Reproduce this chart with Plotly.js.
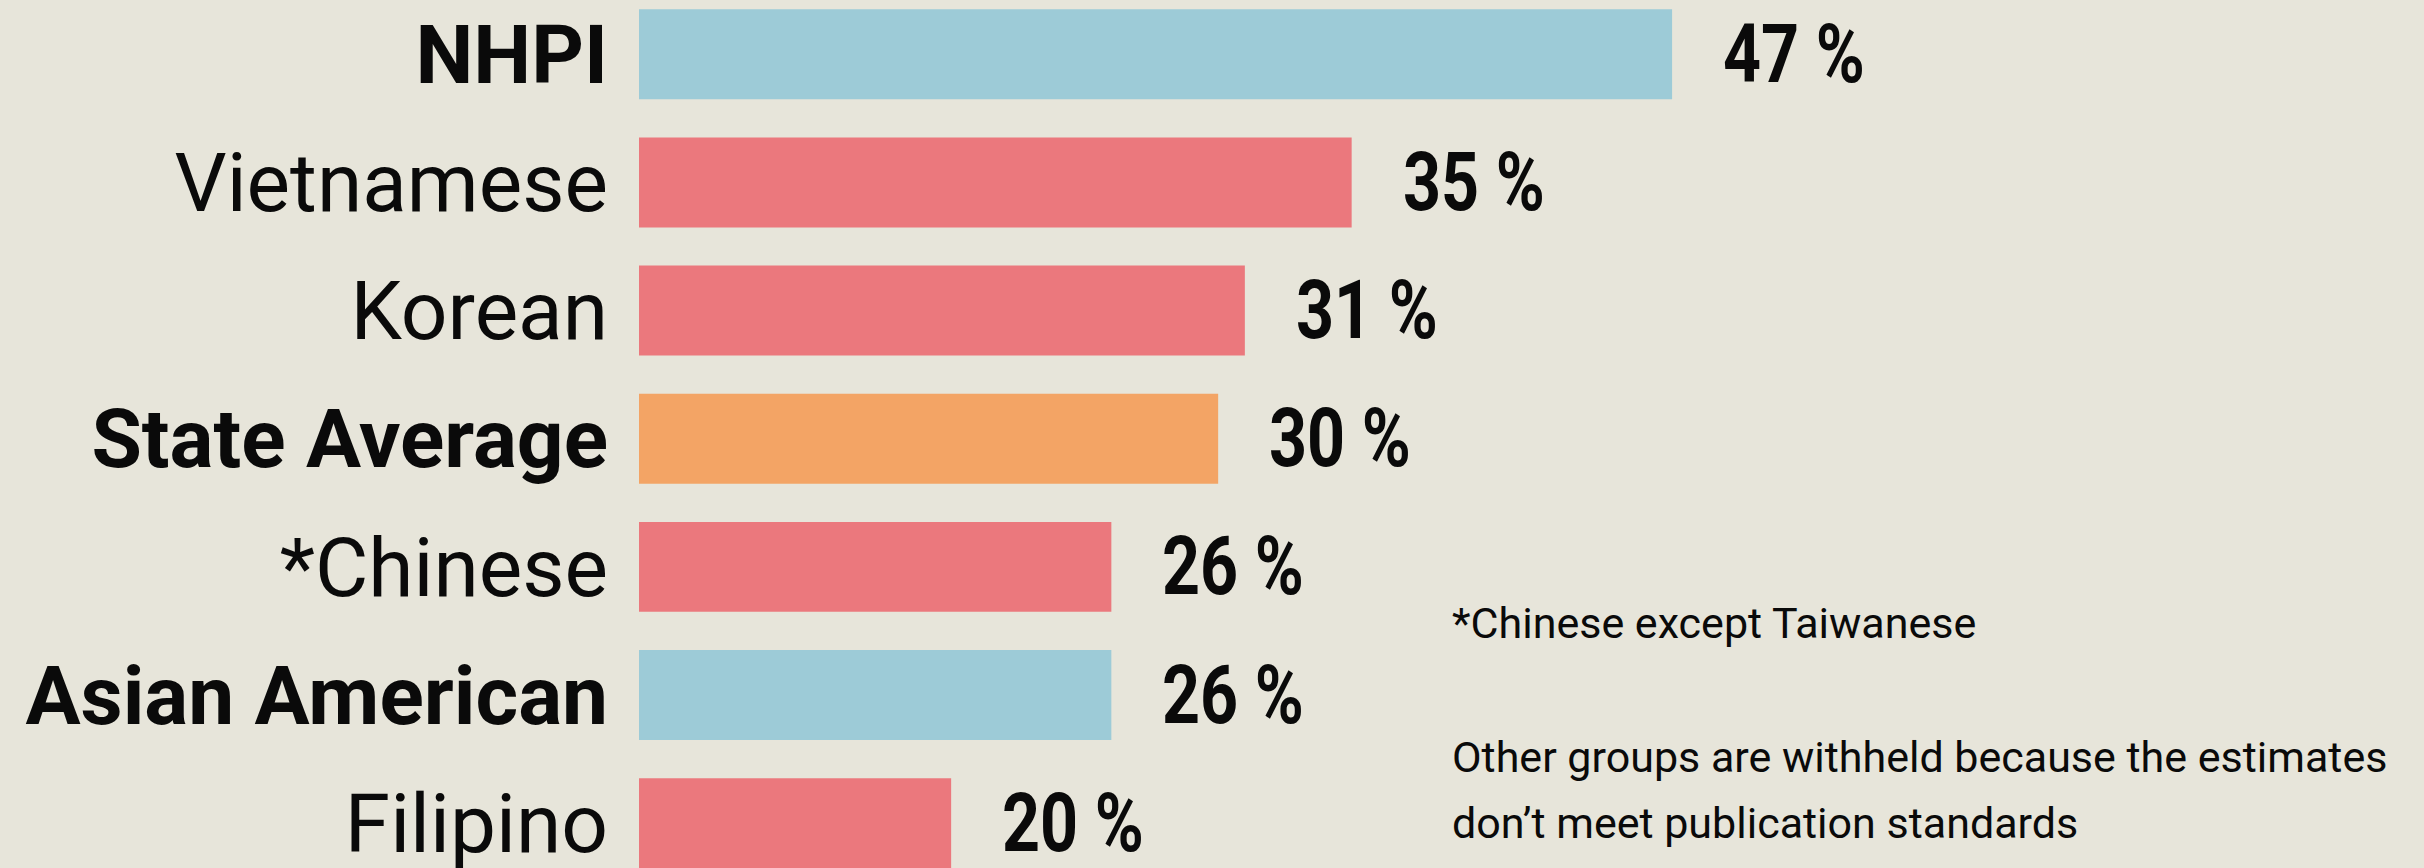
<!DOCTYPE html>
<html>
<head>
<meta charset="utf-8">
<script src="https://cdn.plot.ly/plotly-3.0.1.min.js"></script>
<style>
  html, body { margin: 0; padding: 0; background: #e7e5da; }
  #chart { width: 2424px; height: 868px; }
</style>
</head>
<body>
<div id="chart"></div>
<script>
// ---- data ----
const categories = ["NHPI", "Vietnamese", "Korean", "State Average", "*Chinese", "Asian American", "Filipino"];
const values = [47, 35, 31, 30, 26, 26, 20];
const groupTypes = ["aggregate", "subgroup", "subgroup", "average", "subgroup", "aggregate", "subgroup"];
const valueLabels = ["47 %", "35 %", "31 %", "30 %", "26 %", "26 %", "20 %"];
const footnotes = [
  "*Chinese except Taiwanese",
  "Other groups are withheld because the estimates",
  "don\u2019t meet publication standards"
];

// ---- styles ----
const colorMap = { aggregate: "#9dcbd7", subgroup: "#eb787d", average: "#f3a465" };
const boldTypes = { aggregate: true, average: true, subgroup: false };
const labelFont = "Roboto, 'DejaVu Sans', sans-serif";
const valueFont = "Roboto, 'DejaVu Sans Condensed', sans-serif";
const valueCondense = 0.82;

const barColors = groupTypes.map(t => colorMap[t]);
const tickText = categories.map((c, i) => boldTypes[groupTypes[i]] ? "<b>" + c + "</b>" : c);

const trace = {
  type: "bar",
  orientation: "h",
  x: values,
  y: categories,
  marker: { color: barColors, line: { width: 0 } },
  width: 0.702,
  hoverinfo: "none"
};

const annotations = values.map((v, i) => ({
  x: v, y: categories[i], xref: "x", yref: "y",
  text: "<b>" + valueLabels[i] + "</b>",
  showarrow: false, xanchor: "left", yanchor: "middle", align: "left",
  xshift: 50, borderpad: 0,
  font: { family: valueFont, size: 81, color: "#0a0a0a" }
}));

const footY = [0.2817, 0.1276, 0.0513];
footnotes.forEach((t, i) => {
  annotations.push({
    x: 0.4543, y: footY[i], xref: "paper", yref: "paper",
    text: t, showarrow: false, xanchor: "left", yanchor: "middle", align: "left",
    font: { family: labelFont, size: 43, color: "#0a0a0a" }
  });
});

const layout = {
  width: 2424, height: 868,
  paper_bgcolor: "#e7e5da",
  plot_bgcolor: "#e7e5da",
  margin: { l: 639, r: 0, t: 0, b: 0, pad: 0 },
  showlegend: false,
  xaxis: {
    range: [8.31, 75.16],
    showgrid: false, zeroline: false, showline: false,
    showticklabels: false, ticks: "", fixedrange: true
  },
  yaxis: {
    type: "category",
    categoryorder: "array",
    categoryarray: categories,
    range: [6.350, -0.4238],
    tickmode: "array",
    tickvals: categories,
    ticktext: tickText,
    ticks: "",
    ticklabelstandoff: 30,
    showgrid: false, zeroline: false, showline: false,
    tickfont: { family: labelFont, size: 82, color: "#0a0a0a" },
    fixedrange: true
  },
  annotations: annotations,
  font: { family: labelFont }
};

Plotly.newPlot("chart", [trace], layout, { displayModeBar: false, staticPlot: true }).then(gd => {
  // condense the value labels horizontally (DIN-condensed look), anchored at their left edge
  const groups = gd.querySelectorAll(".annotation");
  groups.forEach((g, i) => {
    if (i >= values.length) return;
    const t = g.querySelector("text.annotation-text");
    if (!t) return;
    const x = parseFloat(t.getAttribute("x")) || 0;
    const prev = t.getAttribute("transform") || "";
    t.setAttribute("transform", prev + " matrix(" + valueCondense + ",0,0,1," + (x * (1 - valueCondense)) + ",0)");
  });
});
</script>
</body>
</html>
